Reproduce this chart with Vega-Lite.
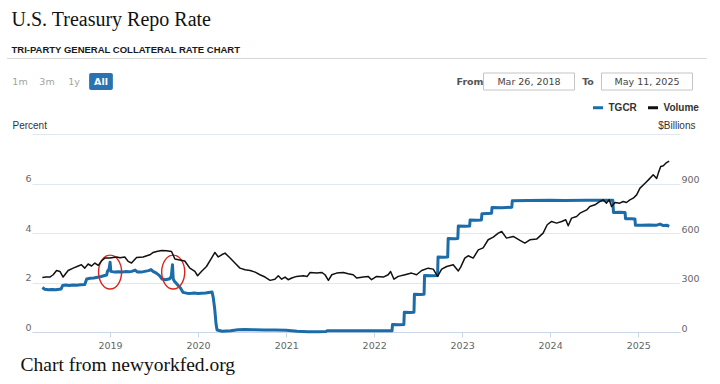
{
  "$schema": "https://vega.github.io/schema/vega-lite/v6.json",
  "background": "white",
  "padding": {"left": 6.5, "top": 10, "right": 4, "bottom": 4},
  "title": {
    "text": "U.S. Treasury Repo Rate",
    "subtitle": "TRI-PARTY GENERAL COLLATERAL RATE CHART",
    "anchor": "start",
    "frame": "group",
    "font": "Liberation Serif",
    "fontSize": 20,
    "fontWeight": "normal",
    "color": "#111111",
    "subtitleFont": "Liberation Sans",
    "subtitleFontSize": 9.5,
    "subtitleFontWeight": "bold",
    "subtitleColor": "#1a1a1a",
    "subtitlePadding": 15,
    "offset": 1,
    "dx": 5
  },
  "config": {
    "view": {"stroke": null},
    "axis": {"labelFont": "DejaVu Sans"},
    "legend": {"labelFont": "Liberation Sans"}
  },
  "datasets": {
    "buttons": [
      {"label": "1m", "selected": false},
      {"label": "3m", "selected": false},
      {"label": "1y", "selected": false},
      {"label": "All", "selected": true}
    ],
    "dates": [
      {"item": "From", "box": false},
      {"item": "Mar 26, 2018", "box": true},
      {"item": "To", "box": false},
      {"item": "May 11, 2025", "box": true}
    ],
    "circles": [
      {"date": "2019-01-01", "rate": 2.42},
      {"date": "2019-09-20", "rate": 2.42}
    ],
    "tgcr": [
      {"date": "2018-03-26", "rate": 1.80},
      {"date": "2018-04-05", "rate": 1.73},
      {"date": "2018-04-20", "rate": 1.71},
      {"date": "2018-05-05", "rate": 1.72},
      {"date": "2018-05-20", "rate": 1.71},
      {"date": "2018-06-05", "rate": 1.73},
      {"date": "2018-06-12", "rate": 1.74},
      {"date": "2018-06-18", "rate": 1.88},
      {"date": "2018-07-01", "rate": 1.90},
      {"date": "2018-07-15", "rate": 1.88},
      {"date": "2018-08-01", "rate": 1.90},
      {"date": "2018-08-15", "rate": 1.89},
      {"date": "2018-09-01", "rate": 1.91},
      {"date": "2018-09-18", "rate": 1.92},
      {"date": "2018-09-26", "rate": 2.14},
      {"date": "2018-10-10", "rate": 2.17},
      {"date": "2018-10-25", "rate": 2.18},
      {"date": "2018-11-10", "rate": 2.21},
      {"date": "2018-11-25", "rate": 2.24},
      {"date": "2018-12-10", "rate": 2.28},
      {"date": "2018-12-18", "rate": 2.30},
      {"date": "2018-12-21", "rate": 2.45},
      {"date": "2018-12-28", "rate": 2.55},
      {"date": "2019-01-01", "rate": 2.82},
      {"date": "2019-01-04", "rate": 2.45},
      {"date": "2019-01-20", "rate": 2.42},
      {"date": "2019-02-05", "rate": 2.43},
      {"date": "2019-02-20", "rate": 2.42},
      {"date": "2019-03-05", "rate": 2.44},
      {"date": "2019-03-20", "rate": 2.43},
      {"date": "2019-04-01", "rate": 2.45},
      {"date": "2019-04-15", "rate": 2.50},
      {"date": "2019-04-25", "rate": 2.42},
      {"date": "2019-05-10", "rate": 2.42},
      {"date": "2019-05-25", "rate": 2.45},
      {"date": "2019-06-10", "rate": 2.48},
      {"date": "2019-06-20", "rate": 2.52},
      {"date": "2019-06-28", "rate": 2.45},
      {"date": "2019-07-12", "rate": 2.38},
      {"date": "2019-07-25", "rate": 2.28},
      {"date": "2019-08-05", "rate": 2.14},
      {"date": "2019-08-20", "rate": 2.11},
      {"date": "2019-09-05", "rate": 2.15},
      {"date": "2019-09-12", "rate": 2.25},
      {"date": "2019-09-17", "rate": 2.72},
      {"date": "2019-09-20", "rate": 2.15},
      {"date": "2019-09-25", "rate": 2.05},
      {"date": "2019-10-08", "rate": 1.91},
      {"date": "2019-10-20", "rate": 1.78},
      {"date": "2019-10-31", "rate": 1.60},
      {"date": "2019-11-15", "rate": 1.57},
      {"date": "2019-12-01", "rate": 1.56},
      {"date": "2019-12-15", "rate": 1.58},
      {"date": "2020-01-01", "rate": 1.56},
      {"date": "2020-01-15", "rate": 1.57},
      {"date": "2020-02-01", "rate": 1.58},
      {"date": "2020-02-15", "rate": 1.60},
      {"date": "2020-02-28", "rate": 1.62},
      {"date": "2020-03-04", "rate": 1.40},
      {"date": "2020-03-10", "rate": 0.95},
      {"date": "2020-03-16", "rate": 0.30},
      {"date": "2020-03-20", "rate": 0.08},
      {"date": "2020-04-10", "rate": 0.03},
      {"date": "2020-05-15", "rate": 0.05},
      {"date": "2020-06-15", "rate": 0.09},
      {"date": "2020-07-15", "rate": 0.10},
      {"date": "2020-08-15", "rate": 0.09},
      {"date": "2020-10-01", "rate": 0.08},
      {"date": "2020-11-15", "rate": 0.08},
      {"date": "2021-01-01", "rate": 0.07},
      {"date": "2021-02-15", "rate": 0.03},
      {"date": "2021-04-01", "rate": 0.01},
      {"date": "2021-05-15", "rate": 0.01},
      {"date": "2021-06-15", "rate": 0.02},
      {"date": "2021-06-20", "rate": 0.05},
      {"date": "2021-09-01", "rate": 0.05},
      {"date": "2021-12-01", "rate": 0.05},
      {"date": "2022-03-16", "rate": 0.05},
      {"date": "2022-03-18", "rate": 0.30},
      {"date": "2022-04-15", "rate": 0.29},
      {"date": "2022-05-04", "rate": 0.30},
      {"date": "2022-05-06", "rate": 0.80},
      {"date": "2022-06-01", "rate": 0.79},
      {"date": "2022-06-15", "rate": 0.80},
      {"date": "2022-06-17", "rate": 1.53},
      {"date": "2022-07-10", "rate": 1.52},
      {"date": "2022-07-27", "rate": 1.53},
      {"date": "2022-07-29", "rate": 2.28},
      {"date": "2022-08-25", "rate": 2.27},
      {"date": "2022-09-21", "rate": 2.28},
      {"date": "2022-09-23", "rate": 3.03},
      {"date": "2022-10-15", "rate": 3.02},
      {"date": "2022-11-02", "rate": 3.03},
      {"date": "2022-11-04", "rate": 3.78},
      {"date": "2022-12-01", "rate": 3.77},
      {"date": "2022-12-14", "rate": 3.78},
      {"date": "2022-12-16", "rate": 4.28},
      {"date": "2023-01-15", "rate": 4.27},
      {"date": "2023-02-01", "rate": 4.28},
      {"date": "2023-02-03", "rate": 4.53},
      {"date": "2023-03-01", "rate": 4.52},
      {"date": "2023-03-22", "rate": 4.53},
      {"date": "2023-03-24", "rate": 4.78},
      {"date": "2023-04-15", "rate": 4.79},
      {"date": "2023-05-03", "rate": 4.80},
      {"date": "2023-05-05", "rate": 5.03},
      {"date": "2023-06-15", "rate": 5.02},
      {"date": "2023-07-26", "rate": 5.04},
      {"date": "2023-07-28", "rate": 5.30},
      {"date": "2023-10-01", "rate": 5.31},
      {"date": "2024-01-01", "rate": 5.32},
      {"date": "2024-03-01", "rate": 5.31},
      {"date": "2024-06-01", "rate": 5.32},
      {"date": "2024-09-17", "rate": 5.32},
      {"date": "2024-09-20", "rate": 4.83},
      {"date": "2024-10-15", "rate": 4.84},
      {"date": "2024-11-07", "rate": 4.83},
      {"date": "2024-11-09", "rate": 4.58},
      {"date": "2024-12-01", "rate": 4.58},
      {"date": "2024-12-18", "rate": 4.57},
      {"date": "2024-12-20", "rate": 4.31},
      {"date": "2025-01-15", "rate": 4.31},
      {"date": "2025-02-15", "rate": 4.32},
      {"date": "2025-03-15", "rate": 4.31},
      {"date": "2025-04-01", "rate": 4.36},
      {"date": "2025-04-15", "rate": 4.30},
      {"date": "2025-05-01", "rate": 4.31},
      {"date": "2025-05-09", "rate": 4.27}
    ],
    "volume": [
      {"date": "2018-03-26", "volume": 331},
      {"date": "2018-04-10", "volume": 333},
      {"date": "2018-04-26", "volume": 333},
      {"date": "2018-05-10", "volume": 347},
      {"date": "2018-05-24", "volume": 373},
      {"date": "2018-06-07", "volume": 367},
      {"date": "2018-06-20", "volume": 333},
      {"date": "2018-07-11", "volume": 373},
      {"date": "2018-08-01", "volume": 387},
      {"date": "2018-08-22", "volume": 400},
      {"date": "2018-09-04", "volume": 408},
      {"date": "2018-09-18", "volume": 387},
      {"date": "2018-10-02", "volume": 412},
      {"date": "2018-10-16", "volume": 400},
      {"date": "2018-10-30", "volume": 418},
      {"date": "2018-11-13", "volume": 404},
      {"date": "2018-11-27", "volume": 432},
      {"date": "2018-12-10", "volume": 448},
      {"date": "2019-01-01", "volume": 448},
      {"date": "2019-01-28", "volume": 455},
      {"date": "2019-02-11", "volume": 450},
      {"date": "2019-03-03", "volume": 455},
      {"date": "2019-03-17", "volume": 428},
      {"date": "2019-03-31", "volume": 418},
      {"date": "2019-04-21", "volume": 451},
      {"date": "2019-05-18", "volume": 455},
      {"date": "2019-06-15", "volume": 468},
      {"date": "2019-06-29", "volume": 482},
      {"date": "2019-07-13", "volume": 488},
      {"date": "2019-08-03", "volume": 494},
      {"date": "2019-08-23", "volume": 492},
      {"date": "2019-09-13", "volume": 488},
      {"date": "2019-09-27", "volume": 442},
      {"date": "2019-10-17", "volume": 436},
      {"date": "2019-11-07", "volume": 430},
      {"date": "2019-11-28", "volume": 387},
      {"date": "2019-12-19", "volume": 367},
      {"date": "2019-12-30", "volume": 341},
      {"date": "2020-01-15", "volume": 367},
      {"date": "2020-02-05", "volume": 397},
      {"date": "2020-02-26", "volume": 448},
      {"date": "2020-03-11", "volume": 482},
      {"date": "2020-03-25", "volume": 455},
      {"date": "2020-04-08", "volume": 468},
      {"date": "2020-04-22", "volume": 478},
      {"date": "2020-05-13", "volume": 448},
      {"date": "2020-06-02", "volume": 418},
      {"date": "2020-06-23", "volume": 387},
      {"date": "2020-07-14", "volume": 377},
      {"date": "2020-08-04", "volume": 373},
      {"date": "2020-08-25", "volume": 363},
      {"date": "2020-09-14", "volume": 347},
      {"date": "2020-10-05", "volume": 333},
      {"date": "2020-10-26", "volume": 313},
      {"date": "2020-11-15", "volume": 320},
      {"date": "2020-11-29", "volume": 341},
      {"date": "2020-12-13", "volume": 320},
      {"date": "2020-12-27", "volume": 333},
      {"date": "2021-01-09", "volume": 317},
      {"date": "2021-01-24", "volume": 327},
      {"date": "2021-02-13", "volume": 337},
      {"date": "2021-03-13", "volume": 341},
      {"date": "2021-03-29", "volume": 337},
      {"date": "2021-04-10", "volume": 361},
      {"date": "2021-05-07", "volume": 357},
      {"date": "2021-05-28", "volume": 361},
      {"date": "2021-06-11", "volume": 347},
      {"date": "2021-06-25", "volume": 313},
      {"date": "2021-07-09", "volume": 347},
      {"date": "2021-07-29", "volume": 357},
      {"date": "2021-08-26", "volume": 361},
      {"date": "2021-09-15", "volume": 353},
      {"date": "2021-10-06", "volume": 347},
      {"date": "2021-10-20", "volume": 327},
      {"date": "2021-11-17", "volume": 333},
      {"date": "2021-12-07", "volume": 337},
      {"date": "2021-12-21", "volume": 317},
      {"date": "2022-01-11", "volume": 337},
      {"date": "2022-02-08", "volume": 333},
      {"date": "2022-02-28", "volume": 347},
      {"date": "2022-03-10", "volume": 367},
      {"date": "2022-03-24", "volume": 320},
      {"date": "2022-04-11", "volume": 337},
      {"date": "2022-05-09", "volume": 347},
      {"date": "2022-06-05", "volume": 357},
      {"date": "2022-06-26", "volume": 347},
      {"date": "2022-07-17", "volume": 373},
      {"date": "2022-08-13", "volume": 387},
      {"date": "2022-09-03", "volume": 381},
      {"date": "2022-09-21", "volume": 337},
      {"date": "2022-10-08", "volume": 381},
      {"date": "2022-10-29", "volume": 397},
      {"date": "2022-11-25", "volume": 407},
      {"date": "2022-12-16", "volume": 370},
      {"date": "2022-12-26", "volume": 393},
      {"date": "2023-01-12", "volume": 448},
      {"date": "2023-01-26", "volume": 462},
      {"date": "2023-02-16", "volume": 448},
      {"date": "2023-03-09", "volume": 498},
      {"date": "2023-03-29", "volume": 510},
      {"date": "2023-04-19", "volume": 559},
      {"date": "2023-05-10", "volume": 575},
      {"date": "2023-05-31", "volume": 599},
      {"date": "2023-06-14", "volume": 609},
      {"date": "2023-07-04", "volume": 569},
      {"date": "2023-08-01", "volume": 579},
      {"date": "2023-08-29", "volume": 555},
      {"date": "2023-09-18", "volume": 539},
      {"date": "2023-10-09", "volume": 559},
      {"date": "2023-11-06", "volume": 563},
      {"date": "2023-12-03", "volume": 599},
      {"date": "2023-12-20", "volume": 650},
      {"date": "2024-01-07", "volume": 670},
      {"date": "2024-01-28", "volume": 660},
      {"date": "2024-02-18", "volume": 670},
      {"date": "2024-03-06", "volume": 680},
      {"date": "2024-03-16", "volume": 644},
      {"date": "2024-03-30", "volume": 690},
      {"date": "2024-04-20", "volume": 700},
      {"date": "2024-05-04", "volume": 720},
      {"date": "2024-06-01", "volume": 740},
      {"date": "2024-06-14", "volume": 761},
      {"date": "2024-07-05", "volume": 771},
      {"date": "2024-07-26", "volume": 791},
      {"date": "2024-08-08", "volume": 801},
      {"date": "2024-08-22", "volume": 781},
      {"date": "2024-09-02", "volume": 801},
      {"date": "2024-09-12", "volume": 761},
      {"date": "2024-09-26", "volume": 785},
      {"date": "2024-10-16", "volume": 781},
      {"date": "2024-10-30", "volume": 791},
      {"date": "2024-11-13", "volume": 785},
      {"date": "2024-11-27", "volume": 801},
      {"date": "2024-12-11", "volume": 811},
      {"date": "2024-12-25", "volume": 831},
      {"date": "2025-01-08", "volume": 872},
      {"date": "2025-01-29", "volume": 902},
      {"date": "2025-02-12", "volume": 922},
      {"date": "2025-03-04", "volume": 953},
      {"date": "2025-03-18", "volume": 930},
      {"date": "2025-03-25", "volume": 963},
      {"date": "2025-04-04", "volume": 1003},
      {"date": "2025-04-15", "volume": 1008},
      {"date": "2025-04-25", "volume": 1023},
      {"date": "2025-05-09", "volume": 1035}
    ]
  },
  "bounds": "flush",
  "spacing": 14,
  "vconcat": [
    {
      "width": 700,
      "height": 1,
      "data": {"values": [{"v": 0}]},
      "mark": {"type": "point", "opacity": 0},
      "encoding": {
        "x": {
          "field": "v",
          "type": "quantitative",
          "axis": {"orient": "top", "domainColor": "#d6d6d6", "domainWidth": 1, "ticks": false, "labels": false, "grid": false, "title": null}
        }
      }
    },
    {
      "bounds": "flush",
      "spacing": 326,
      "hconcat": [
        {
          "width": 108,
          "height": 17,
          "data": {"name": "buttons"},
          "encoding": {
            "x": {"field": "label", "type": "nominal", "axis": null, "scale": {"domain": ["1m", "3m", "1y", "All"], "paddingInner": 0, "paddingOuter": 0}}
          },
          "layer": [
            {
              "transform": [{"filter": "datum.selected"}],
              "mark": {"type": "bar", "color": "#2b72b2", "width": {"band": 0.88}, "cornerRadius": 2}
            },
            {
              "transform": [{"filter": "!datum.selected"}],
              "mark": {"type": "text", "font": "DejaVu Sans", "fontSize": 9.5, "color": "#a3a3a3"},
              "encoding": {"text": {"field": "label"}}
            },
            {
              "transform": [{"filter": "datum.selected"}],
              "mark": {"type": "text", "font": "DejaVu Sans", "fontSize": 9.5, "fontWeight": "bold", "color": "#ffffff"},
              "encoding": {"text": {"field": "label"}}
            }
          ]
        },
        {
          "width": 236,
          "height": 17,
          "data": {"name": "dates"},
          "encoding": {
            "x": {"field": "item", "type": "nominal", "axis": null, "scale": {"domain": ["From", "Mar 26, 2018", "To", "May 11, 2025"], "paddingInner": 0, "paddingOuter": 0}}
          },
          "layer": [
            {
              "transform": [{"filter": "datum.box"}],
              "mark": {"type": "bar", "width": 91, "fill": "#ffffff", "stroke": "#c4c4c4", "strokeWidth": 1}
            },
            {
              "transform": [{"filter": "datum.box"}],
              "mark": {"type": "text", "font": "DejaVu Sans", "fontSize": 9.5, "color": "#444444"},
              "encoding": {"text": {"field": "item"}}
            },
            {
              "transform": [{"filter": "!datum.box"}],
              "mark": {"type": "text", "font": "DejaVu Sans", "fontSize": 9.5, "fontWeight": "bold", "color": "#555555"},
              "encoding": {"text": {"field": "item"}}
            }
          ]
        }
      ]
    },
    {
      "width": 1,
      "height": 33,
      "data": {"values": []},
      "mark": "text",
      "encoding": {}
    },
    {
      "bounds": "flush",
      "spacing": 24.5,
      "hconcat": [
        {
          "width": 1,
          "height": 198,
          "data": {"values": []},
          "mark": "text",
          "encoding": {}
        },
        {
          "width": 648,
          "height": 198,
          "layer": [
            {
              "layer": [
                {
                  "data": {"name": "tgcr"},
                  "mark": {"type": "line", "strokeWidth": 3, "strokeJoin": "round"},
                  "encoding": {
                    "x": {
                      "field": "date",
                      "type": "temporal",
                      "scale": {"domain": [{"year": 2018, "month": 2, "date": 11}, {"year": 2025, "month": 6, "date": 23}]},
                      "axis": {
                        "tickCount": {"interval": "year", "step": 1},
                        "format": "%Y",
                        "grid": false,
                        "domainColor": "#ccd6eb",
                        "tickColor": "#ccd6eb",
                        "tickSize": 5,
                        "labelColor": "#666666",
                        "labelFontSize": 9.5,
                        "labelPadding": 3,
                        "labelFlush": false,
                        "title": "Chart from newyorkfed.org",
                        "titleFont": "Liberation Serif",
                        "titleFontSize": 19.5,
                        "titleFontWeight": "normal",
                        "titleColor": "#111111",
                        "titleAnchor": "start",
                        "titleAlign": "left",
                        "titleBaseline": "alphabetic",
                        "titleX": -12,
                        "titleY": 38
                      }
                    },
                    "y": {
                      "field": "rate",
                      "type": "quantitative",
                      "scale": {"domain": [0, 8], "nice": false},
                      "axis": {
                        "values": [0, 2, 4, 6, 8],
                        "labelExpr": "datum.value == 8 ? '' : datum.label",
                        "grid": true,
                        "gridColor": "#e1e7ef",
                        "domain": false,
                        "ticks": false,
                        "labelAlign": "right",
                        "labelPadding": 1,
                        "labelBaseline": "middle",
                        "labelOffset": -5,
                        "labelColor": "#666666",
                        "labelFontSize": 9.5,
                        "title": "Percent",
                        "titleFont": "Liberation Sans",
                        "titleAngle": 0,
                        "titleAlign": "left",
                        "titleBaseline": "middle",
                        "titleX": -20,
                        "titleY": -9,
                        "titleFontWeight": "normal",
                        "titleFontSize": 10,
                        "titleColor": "#333333"
                      }
                    },
                    "color": {
                      "datum": "TGCR",
                      "type": "nominal",
                      "scale": {"domain": ["TGCR", "Volume"], "range": ["#1b6ca8", "#111111"]},
                      "legend": {
                        "orient": "none",
                        "legendX": 585,
                        "legendY": 43,
                        "direction": "horizontal",
                        "title": null,
                        "padding": 0,
                        "symbolType": "stroke",
                        "symbolSize": 100,
                        "symbolStrokeWidth": 3,
                        "labelFontSize": 10,
                        "labelFontWeight": "bold",
                        "labelColor": "#333333",
                        "labelOffset": 4,
                        "columnPadding": 4
                      }
                    }
                  }
                },
                {
                  "data": {"name": "circles"},
                  "mark": {
                    "type": "point",
                    "shape": "M0,-1A0.68,1,0,1,1,0,1A0.68,1,0,1,1,0,-1Z",
                    "size": 1150,
                    "filled": false,
                    "stroke": "#d9261c",
                    "strokeWidth": 1.4,
                    "opacity": 1
                  },
                  "encoding": {
                    "x": {"field": "date", "type": "temporal"},
                    "y": {"field": "rate", "type": "quantitative"}
                  }
                }
              ]
            },
            {
              "data": {"name": "volume"},
              "mark": {"type": "line", "strokeWidth": 1.5, "strokeJoin": "round"},
              "encoding": {
                "x": {"field": "date", "type": "temporal"},
                "y": {
                  "field": "volume",
                  "type": "quantitative",
                  "scale": {"domain": [0, 1200], "nice": false},
                  "axis": {
                    "orient": "right",
                    "values": [0, 300, 600, 900],
                    "grid": false,
                    "domain": false,
                    "ticks": false,
                    "labelAlign": "left",
                    "labelPadding": 1,
                    "labelBaseline": "middle",
                    "labelOffset": -4,
                    "labelColor": "#666666",
                    "labelFontSize": 9.5,
                    "title": "$Billions",
                    "titleFont": "Liberation Sans",
                    "titleAngle": 0,
                    "titleAlign": "right",
                    "titleBaseline": "middle",
                    "titleX": 15,
                    "titleY": -9,
                    "titleFontWeight": "normal",
                    "titleFontSize": 10,
                    "titleColor": "#333333"
                  }
                },
                "color": {"datum": "Volume", "type": "nominal"}
              }
            }
          ],
          "resolve": {"scale": {"y": "independent"}}
        }
      ]
    }
  ]
}
